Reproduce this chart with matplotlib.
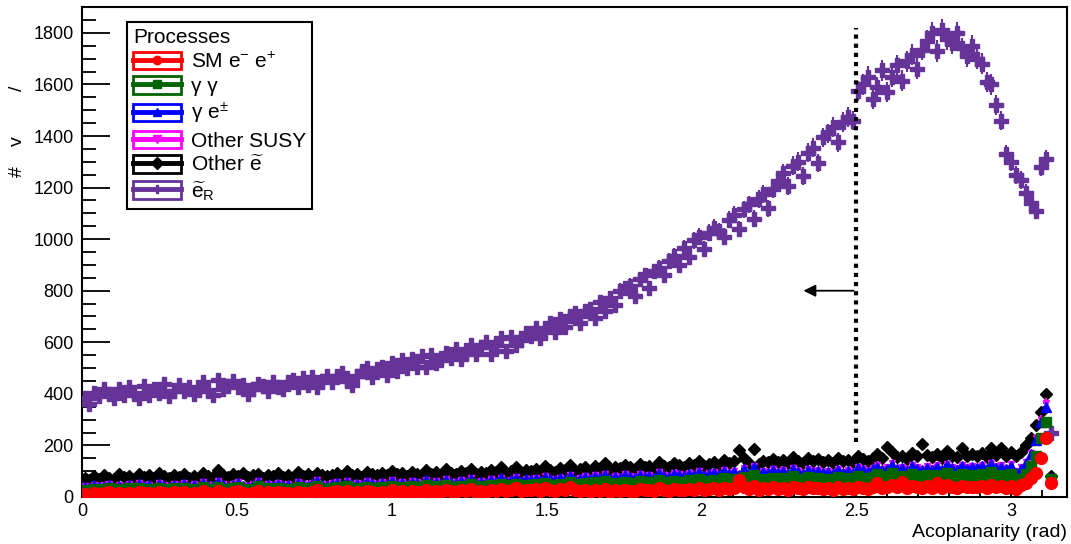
import numpy as np
import matplotlib
matplotlib.use("Agg")
import matplotlib.pyplot as plt
from matplotlib.patches import Rectangle
from matplotlib.lines import Line2D
from matplotlib.legend_handler import HandlerTuple

plt.rcParams['font.family'] = ['Liberation Sans', 'DejaVu Sans']
plt.rcParams['mathtext.fontset'] = 'custom'
plt.rcParams['mathtext.rm'] = 'Liberation Sans'
plt.rcParams['mathtext.it'] = 'Liberation Sans:italic'

# histogram binning: 0.016 rad bins starting at 0
bin_width = 0.016

# signal: right-handed selectron
eR = [385, 360, 405, 390, 420, 400, 385, 420, 395, 425,
      400, 385, 430, 395, 420, 405, 440, 390, 410, 435,
      410, 425, 400, 415, 445, 410, 395, 455, 420, 430,
      450, 425, 435, 400, 420, 440, 430, 410, 445, 425,
      420, 445, 455, 425, 460, 435, 465, 425, 450, 470,
      445, 470, 480, 450, 435, 470, 490, 500, 465, 495,
      505, 475, 520, 490, 530, 500, 535, 505, 545, 505,
      550, 520, 530, 560, 540, 575, 535, 560, 590, 555,
      580, 600, 555, 590, 615, 565, 620, 590, 610, 635,
      625, 655, 615, 645, 675, 640, 690, 660, 700, 715,
      675, 720, 730, 695, 755, 720, 770, 745, 800, 810,
      820, 780, 845, 860, 810, 875, 890, 860, 915, 935,
      900, 965, 930, 995, 1010, 960, 1025, 1045, 1030, 1010,
      1075, 1095, 1040, 1115, 1135, 1080, 1155, 1175, 1120, 1195,
      1225, 1255, 1205, 1285, 1300, 1245, 1335, 1355, 1295, 1395,
      1410, 1435, 1375, 1455, 1475, 1460, 1575, 1600, 1630, 1545,
      1590, 1655, 1570, 1630, 1675, 1615, 1690, 1715, 1660, 1735,
      1770, 1800, 1730, 1810, 1775, 1760, 1800, 1740, 1710, 1750,
      1700, 1680, 1610, 1600, 1520, 1460, 1330, 1300, 1250, 1230,
      1180, 1140, 1110, 1280, 1310, 250]

other_se = [72, 65, 80, 70, 85, 75, 68, 90, 78, 82,
            70, 88, 76, 84, 72, 95, 80, 74, 86, 78,
            90, 75, 83, 70, 92, 80, 76, 105, 85, 78,
            88, 82, 95, 76, 84, 90, 72, 86, 80, 93,
            78, 85, 75, 98, 82, 88, 76, 92, 84, 80,
            86, 95, 80, 102, 84, 90, 78, 96, 88, 85,
            92, 84, 100, 88, 95, 82, 98, 90, 86, 104,
            90, 96, 85, 110, 92, 88, 100, 94, 108, 90,
            98, 92, 104, 96, 115, 90, 102, 118, 95, 106,
            100, 110, 96, 120, 104, 98, 112, 106, 125, 100,
            108, 115, 102, 120, 110, 130, 105, 118, 112, 125,
            115, 108, 128, 118, 122, 110, 135, 120, 116, 130,
            124, 118, 132, 126, 140, 120, 128, 136, 122, 145,
            130, 138, 182, 150, 132, 185, 128, 140, 134, 148,
            136, 145, 130, 155, 140, 132, 150, 138, 146, 135,
            142, 130, 150, 138, 145, 135, 158, 148, 140, 152,
            165, 150, 194, 175, 155, 160, 148, 170, 158, 205,
            162, 155, 168, 150, 178, 160, 154, 190, 158, 165,
            160, 172, 156, 190, 162, 190, 158, 175, 160, 175,
            200, 230, 280, 330, 400, 80]

other_susy = [43, 38, 48, 41, 45, 51, 39, 47, 43, 49,
              41, 53, 45, 48, 39, 55, 47, 43, 51, 45,
              53, 43, 49, 41, 58, 47, 45, 61, 49, 43,
              51, 58, 47, 43, 49, 63, 45, 51, 47, 55,
              45, 49, 43, 57, 51, 47, 55, 65, 49, 47,
              53, 59, 47, 63, 51, 55, 49, 61, 53, 51,
              57, 51, 65, 55, 59, 49, 63, 57, 53, 67,
              55, 61, 53, 69, 59, 57, 65, 61, 73, 59,
              63, 59, 69, 63, 75, 61, 67, 77, 63, 71,
              67, 73, 65, 81, 71, 67, 75, 71, 85, 69,
              74, 80, 72, 84, 78, 90, 74, 82, 78, 88,
              80, 76, 90, 82, 86, 78, 96, 84, 82, 92,
              88, 84, 94, 90, 100, 86, 92, 98, 88, 104,
              92, 100, 90, 112, 94, 122, 90, 102, 96, 108,
              98, 104, 92, 114, 100, 94, 110, 100, 106, 96,
              102, 94, 110, 98, 104, 96, 116, 108, 100, 112,
              123, 109, 115, 131, 113, 117, 107, 125, 115, 109,
              119, 111, 123, 109, 129, 117, 111, 125, 115, 121,
              117, 125, 113, 133, 119, 123, 113, 127, 100, 115,
              136, 171, 228, 300, 365, 78]

gamma_e = [40, 35, 45, 38, 42, 48, 36, 44, 40, 46,
           38, 50, 42, 45, 36, 52, 44, 40, 48, 42,
           50, 40, 46, 38, 55, 44, 42, 58, 46, 40,
           48, 55, 44, 40, 46, 60, 42, 48, 44, 52,
           42, 46, 40, 54, 48, 44, 52, 62, 46, 44,
           50, 56, 44, 60, 48, 52, 46, 58, 50, 48,
           54, 48, 62, 52, 56, 46, 60, 54, 50, 64,
           52, 58, 50, 66, 56, 54, 62, 58, 70, 56,
           60, 56, 66, 60, 72, 58, 64, 74, 60, 68,
           64, 70, 62, 78, 68, 64, 72, 68, 82, 66,
           70, 76, 68, 80, 74, 86, 70, 78, 74, 84,
           76, 72, 86, 78, 82, 74, 92, 80, 78, 88,
           84, 80, 90, 86, 96, 82, 88, 94, 84, 100,
           88, 96, 86, 108, 90, 118, 86, 98, 92, 104,
           94, 100, 88, 110, 96, 90, 106, 96, 102, 92,
           98, 90, 106, 94, 100, 92, 112, 104, 96, 108,
           118, 104, 110, 126, 108, 112, 102, 120, 110, 104,
           114, 106, 118, 104, 124, 112, 106, 120, 110, 116,
           112, 120, 108, 128, 114, 118, 108, 122, 95, 110,
           130, 165, 220, 290, 350, 75]

gamma_gamma = [28, 24, 32, 26, 30, 34, 25, 31, 28, 33,
               27, 35, 29, 32, 25, 36, 30, 28, 34, 29,
               35, 28, 32, 26, 38, 30, 29, 40, 32, 28,
               34, 38, 30, 28, 32, 42, 29, 34, 31, 36,
               30, 32, 28, 38, 34, 31, 36, 44, 32, 30,
               35, 39, 31, 42, 34, 36, 32, 40, 35, 34,
               38, 34, 44, 36, 40, 32, 42, 38, 35, 45,
               36, 41, 35, 46, 39, 38, 44, 41, 50, 39,
               42, 39, 46, 42, 51, 41, 45, 52, 42, 48,
               45, 49, 44, 55, 48, 45, 51, 48, 58, 46,
               49, 54, 48, 57, 52, 61, 49, 55, 52, 60,
               54, 51, 61, 55, 58, 52, 66, 57, 55, 63,
               60, 57, 64, 61, 69, 58, 63, 67, 60, 72,
               63, 69, 61, 78, 64, 85, 61, 70, 66, 75,
               67, 72, 63, 80, 69, 64, 77, 69, 74, 66,
               70, 64, 77, 67, 72, 66, 82, 75, 69, 79,
               88, 76, 80, 95, 79, 82, 74, 90, 81, 76,
               84, 77, 87, 75, 93, 82, 77, 89, 80, 85,
               82, 88, 78, 96, 84, 87, 78, 90, 60, 70,
               90, 120, 160, 230, 290, 70]

sm_ee = [12, 9, 15, 10, 14, 18, 11, 16, 13, 17,
         11, 19, 14, 16, 10, 20, 15, 12, 18, 14,
         19, 12, 16, 11, 22, 15, 13, 24, 16, 12,
         18, 22, 14, 12, 16, 25, 13, 18, 15, 20,
         14, 16, 12, 21, 17, 15, 19, 26, 16, 14,
         18, 22, 15, 24, 17, 19, 15, 23, 18, 17,
         21, 17, 26, 19, 23, 15, 25, 21, 18, 27,
         19, 24, 18, 28, 22, 20, 26, 23, 30, 21,
         24, 21, 28, 24, 32, 22, 27, 33, 23, 29,
         26, 30, 24, 35, 28, 25, 31, 28, 37, 26,
         22, 26, 20, 28, 24, 30, 21, 27, 24, 29,
         25, 22, 30, 26, 28, 23, 33, 27, 25, 31,
         28, 26, 32, 29, 34, 27, 31, 33, 28, 36,
         30, 34, 66, 38, 31, 42, 28, 35, 32, 37,
         32, 35, 29, 39, 33, 30, 37, 33, 36, 31,
         33, 29, 37, 31, 35, 30, 40, 36, 32, 38,
         55, 35, 39, 48, 37, 58, 34, 44, 39, 35,
         41, 36, 56, 34, 46, 39, 35, 43, 38, 40,
         39, 42, 36, 47, 40, 41, 35, 43, 30, 45,
         55, 75, 95, 150, 230, 55]

labels = ["SM e$^{\\mathrm{-}}$ e$^{+}$", "\u03b3 \u03b3", "\u03b3 e$^{\\pm}$", "Other SUSY",
          "Other $\\widetilde{\\mathrm{e}}$", "$\\widetilde{\\mathrm{e}}_{\\mathrm{R}}$"]
cut_x = 2.5

fig = plt.figure(figsize=(10.71, 5.44), dpi=100)
ax = fig.add_axes([0.0766, 0.0864, 0.9197, 0.9006])


def draw(vals, color, marker, ms, z):
    vals = np.asarray(vals, dtype=float)
    x = bin_width / 2 + bin_width * np.arange(len(vals))
    ax.errorbar(x, vals, yerr=np.sqrt(vals), xerr=bin_width / 2, fmt=marker,
                color=color, ms=ms, mec=color, elinewidth=1.5, capsize=0, zorder=z)


draw(eR, '#663399', 'P', 9.5, 3)
draw(other_se, 'black', 'D', 6.5, 4)
draw(other_susy, '#ff00ff', 'v', 5, 5)
draw(gamma_e, '#0000ff', '^', 7, 6)
draw(gamma_gamma, '#006400', 's', 7.5, 7)
draw(sm_ee, '#ff0000', 'o', 8.5, 8)

# selection cut
ax.plot([cut_x, cut_x], [215, 1820], color='black', linestyle=(0, (1, 1.2)), lw=3, zorder=9)
ax.annotate('', xy=(2.32, 800), xytext=(cut_x, 800),
            arrowprops=dict(arrowstyle='-|>', color='black', lw=1.3, mutation_scale=18), zorder=9)

ax.set_xlim(0, 3.18)
ax.set_ylim(0, 1900)
ax.set_xticks(np.arange(0, 3.01, 0.5))
ax.set_xticklabels(['0', '0.5', '1', '1.5', '2', '2.5', '3'])
ax.set_xticks(np.arange(0, 3.18, 0.1), minor=True)
ax.set_yticks(np.arange(0, 1801, 200))
ax.set_yticks(np.arange(0, 1900, 50), minor=True)
ax.tick_params(axis='both', which='both', direction='in', top=False, right=False,
               labelsize=13, width=1.3)
ax.tick_params(axis='y', which='major', length=20, pad=6)
ax.tick_params(axis='y', which='minor', length=10)
ax.tick_params(axis='x', which='major', length=9, pad=4)
ax.tick_params(axis='x', which='minor', length=5)
for s in ax.spines.values():
    s.set_linewidth(1.5)

fig.text(0.9963, 0.022, 'Acoplanarity (rad)', ha='right', va='center', fontsize=14)
fig.text(0.016, 0.684, '#', rotation=90, ha='center', va='center', fontsize=14)
fig.text(0.016, 0.741, 'v', rotation=90, ha='center', va='center', fontsize=14)
fig.text(0.016, 0.838, '/', rotation=90, ha='center', va='center', fontsize=14)

colors = ['#ff0000', '#006400', '#0000ff', '#ff00ff', 'black', '#663399']
markers = ['o', 's', '^', 'v', 'D', 'P']
handles = []
for c, m in zip(colors, markers):
    box = Rectangle((0, 0), 1, 1, facecolor='none', edgecolor=c, lw=2)
    ln = Line2D([], [], color=c, lw=3.5, marker=m, ms=6, mec=c)
    handles.append((box, ln))

leg = fig.legend(handles, labels, loc='upper left', bbox_to_anchor=(0.1186, 0.9596),
                 borderaxespad=0, title='Processes', alignment='left',
                 fontsize=15, title_fontsize=15,
                 handler_map={tuple: HandlerTuple(ndivide=1, pad=0)},
                 handlelength=2.3, handleheight=0.9, handletextpad=0.45,
                 labelspacing=0.22, borderpad=0.3, fancybox=False, framealpha=1,
                 edgecolor='black')
leg.get_frame().set_linewidth(1.5)

fig.savefig('out.png', dpi=100)
